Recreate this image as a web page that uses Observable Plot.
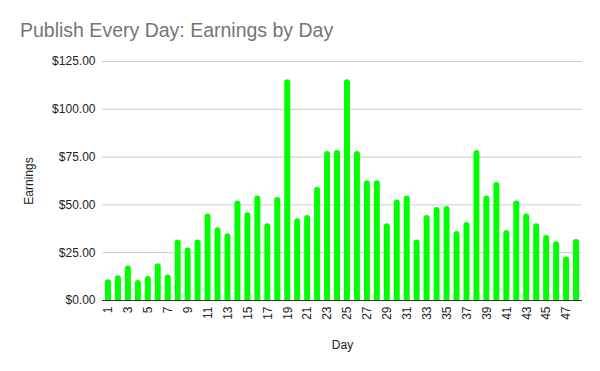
<!DOCTYPE html>
<html>
<head>
<meta charset="utf-8">
<script src="https://cdn.jsdelivr.net/npm/d3@7"></script>
<script src="https://cdn.jsdelivr.net/npm/@observablehq/plot@0.6"></script>
<style>
  html, body { margin: 0; padding: 0; background: #fff; }
  #title { box-sizing: border-box; height: 50px; padding: 21px 0 0 20px; font-family: Arial, "Liberation Sans", sans-serif; font-size: 19.5px; line-height: 19.5px; color: #757575; white-space: nowrap; }
  #chart svg { display: block; }
</style>
</head>
<body>
<div id="title">Publish Every Day: Earnings by Day</div>
<div id="chart"></div>
<script>
const days = [1,2,3,4,5,6,7,8,9,10,11,12,13,14,15,16,17,18,19,20,21,22,23,24,25,26,27,28,29,30,31,32,33,34,35,36,37,38,39,40,41,42,43,44,45,46,47,48];
const earnings = [10.8,12.9,18.1,10.5,12.6,19.2,13.4,31.7,27.5,31.7,45.3,38.0,34.9,52.1,45.9,54.7,40.1,53.9,115.4,42.7,44.5,59.1,77.9,78.5,115.4,77.9,62.6,62.6,40.1,52.6,54.7,31.7,44.5,48.6,49.2,36.1,40.8,78.5,54.7,61.7,36.6,52.1,45.3,40.1,34.0,30.7,22.8,31.9];
const yTicks = [0,25,50,75,100,125];
const xTicks = [1,3,5,7,9,11,13,15,17,19,21,23,25,27,29,31,33,35,37,39,41,43,45,47];

const data = days.map((d, i) => ({day: d, value: earnings[i]}));

const chart = Plot.plot({
  width: 600,
  height: 321,
  marginTop: 11,
  marginBottom: 71,
  marginLeft: 102,
  marginRight: 18,
  style: {fontFamily: 'Arial, "Liberation Sans", sans-serif', fontSize: "12px", color: "#222", background: "#fff"},
  x: {type: "band", domain: days, paddingInner: 0.4, paddingOuter: 0.3},
  y: {domain: [0, 125]},
  marks: [
    Plot.gridY(yTicks, {stroke: "#cccccc", strokeOpacity: 1}),
    Plot.barY(data, {x: "day", y: "value", fill: "#00ff00", ry1: 3, rx1y1: 3, rx2y1: 3}),
    Plot.ruleY([0], {stroke: "#333"}),
    Plot.axisY(yTicks, {tickSize: 0, tickPadding: 7, tickFormat: d => "$" + d3.format(".2f")(d), label: "Earnings", labelAnchor: "center", labelArrow: "none", labelOffset: 78, fontSize: 12}),
    Plot.axisX(xTicks, {tickSize: 0, tickPadding: 6, tickRotate: -90, label: "Day", labelAnchor: "center", labelArrow: "none", labelOffset: 48, fontSize: 12})
  ]
});
document.getElementById("chart").appendChild(chart);
</script>
</body>
</html>
